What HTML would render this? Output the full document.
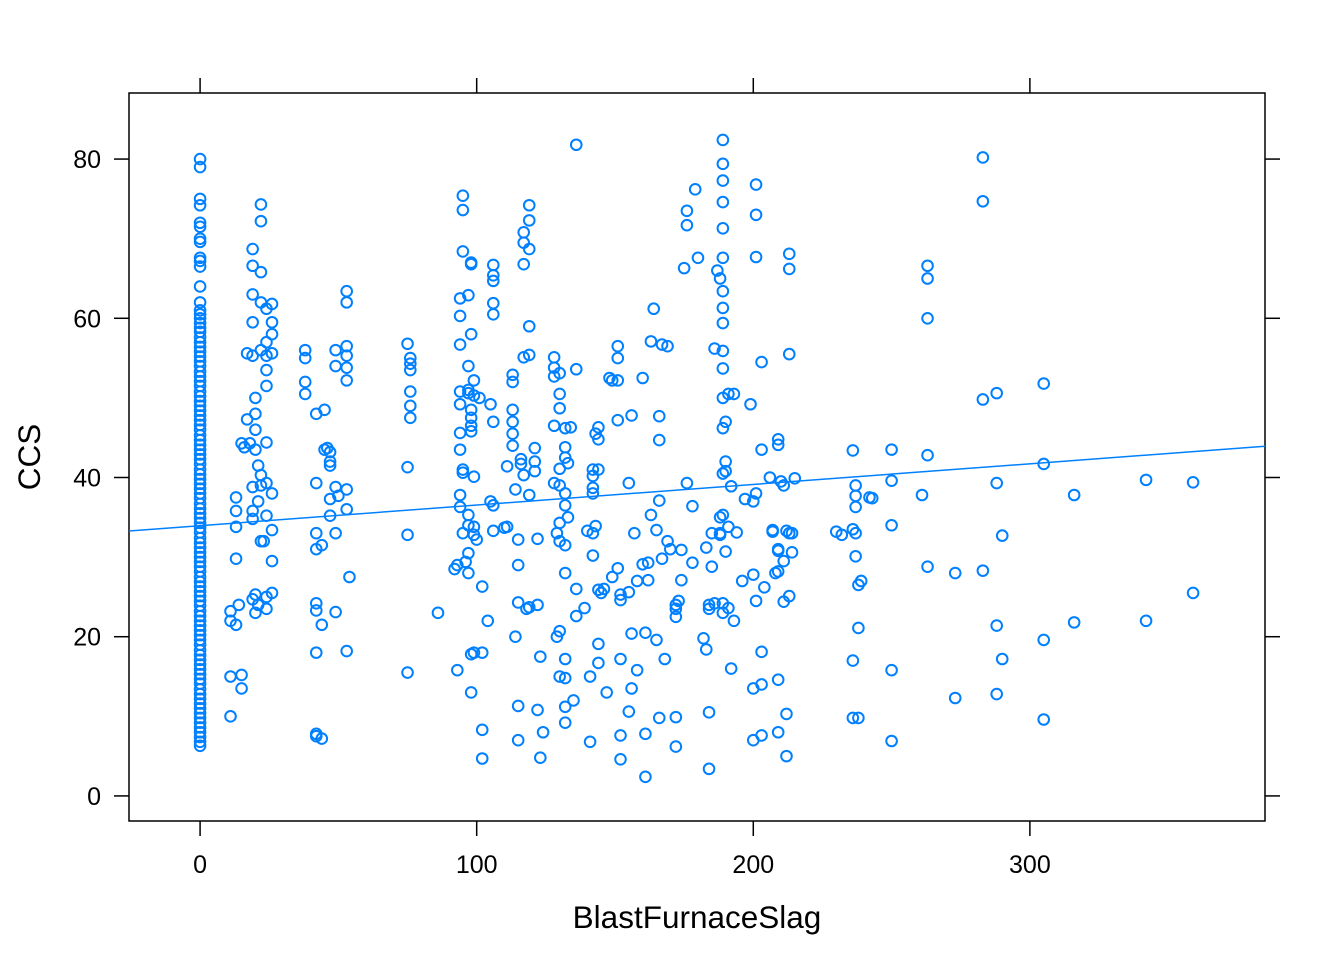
<!DOCTYPE html>
<html><head><meta charset="utf-8"><style>
html,body{margin:0;padding:0;background:#fff}
svg{display:block;font-family:"Liberation Sans",Arial,sans-serif}
</style></head><body>
<svg id="chart" width="1344" height="960">
<rect x="129" y="93" width="1136" height="728" fill="none" stroke="#000" stroke-width="1.5"/>
<g id="axes"></g>
<g id="pts"></g>
<text x="697" y="928" font-size="31.5" text-anchor="middle">BlastFurnaceSlag</text>
<text transform="translate(40,457) rotate(-90)" font-size="31.5" text-anchor="middle">CCS</text>
</svg>
<script>
const xTicks=[0,100,200,300];
const yTicks=[0,20,40,60,80];
const lineIntercept=33.95;
const lineSlope=0.0259;
const zeroY=[80,79,75,74.2,72,71.5,70,69.6,67.6,67.2,66.5,64,62,61,60.5,60,59.4,58.8,58.3,57.6,57,56.4,55.8,55.2,54.6,54,53.3,52.7,52.1,51.5,50.8,50.2,49.6,49,48.4,47.8,47.2,46.6,46,45.3,44.7,44.1,43.5,42.9,42.3,41.7,41,40.4,39.8,39.2,38.6,38,37.4,36.7,36.1,35.5,34.9,34.3,33.7,33.1,32.4,31.8,31.2,30.6,30,29.4,28.8,28.2,27.5,26.9,26.3,25.7,25.1,24.5,23.9,23.2,22.6,22,21.4,20.8,20.2,19.6,19,18.3,17.7,17.1,16.5,15.9,15.3,14.7,14.1,13.4,12.8,12.2,11.6,11,10.4,9.8,9.2,8.6,8,7.4,6.8,6.3];
const pointX=[11,11,11,11,13,13,13,13,13,14,15,15,15,16,17,17,18,19,19,19,19,19,19,19,19,19,20,20,20,20,20,20,21,21,21,22,22,22,22,22,22,22,22,23,24,24,24,24,24,24,24,24,24,24,26,26,26,26,26,26,26,26,
38,38,38,38,42,42,42,42,42,42,42,42,42,44,44,44,45,45,46,47,47,47,47,47,49,49,49,49,49,50,53,53,53,53,53,53,53,53,54,53,
75,76,76,76,76,76,76,75,75,75,86,
92,93,93,94,94,94,94,94,94,94,94,94,95,95,95,95,95,95,96,97,97,97,97,98,98,98,98,97,97,97,97,98,98,98,99,99,99,99,99,99,98,98,100,101,102,102,102,102,
105,104,105,106,106,106,106,106,106,106,106,110,111,111,113,113,113,113,113,113,114,114,115,115,115,115,115,116,116,117,117,117,117,117,118,119,119,119,119,119,119,119,121,121,121,122,122,122,123,123,124,
128,128,128,128,128,129,129,130,130,130,130,130,130,130,130,130,132,132,132,132,132,132,132,132,132,132,132,133,133,134,135,136,136,136,136,139,140,141,141,142,142,142,142,142,142,143,143,144,144,144,144,144,144,145,146,147,148,149,149,151,151,151,151,151,152,152,152,152,152,
155,155,155,156,156,156,157,158,158,160,160,161,161,161,162,162,163,163,164,165,165,166,166,166,166,167,167,168,169,169,170,172,172,172,172,172,173,174,174,175,176,176,176,178,178,179,180,182,183,183,184,184,184,184,185,185,186,186,
187,188,188,188,188,189,189,189,189,189,189,189,189,189,189,189,189,189,189,189,189,189,190,190,190,190,191,191,191,192,192,193,193,194,196,197,
199,200,200,200,200,201,201,201,201,201,203,203,203,203,203,204,206,207,207,208,209,209,209,209,209,209,209,210,211,211,211,212,212,212,213,213,213,213,213,214,214,215,
230,232,236,236,236,236,237,237,237,237,237,238,238,238,239,242,243,250,250,250,250,250,
261,263,263,263,263,263,273,273,283,283,283,283,288,288,288,288,290,290,305,305,305,305,316,316,342,342,359,359];
const pointY=[23.2,22,15,10,21.5,37.5,35.8,33.8,29.8,24,44.3,15.2,13.5,43.8,55.6,47.3,44.3,68.7,66.6,63,59.5,55.3,38.8,35.8,34.8,24.7,46,50,48,43.5,25.3,23,41.5,37,24,62,56,74.3,72.2,65.8,40.3,39,32,32,61.2,57,55.3,53.5,51.5,44.4,39.3,35.2,25,23.5,61.8,59.5,58,55.6,38,33.4,29.5,25.5,
56,55,52,50.5,48,39.3,33,31,24.2,23.3,18,7.8,7.5,31.5,21.5,7.2,48.5,43.5,43.7,43.2,42,41.5,37.3,35.2,56,54,38.8,33,23.1,37.7,63.4,62,56.5,55.3,53.8,52.2,38.5,36,27.5,18.2,
56.8,55,54.3,53.5,50.8,49,47.5,41.3,32.8,15.5,23,
28.5,29,15.8,62.5,60.3,56.7,50.8,49.2,45.6,43.5,37.8,36.3,75.4,73.6,68.4,41,40.6,33,29.4,62.9,54,51,50.6,48.5,47.5,46.5,45.8,35.3,34,30.5,28,67,66.8,58,52.2,50.3,40.1,33.8,32.8,18,17.8,13,32.2,50,18,26.3,8.3,4.7,
49.2,22,37,66.7,65.4,64.7,61.9,60.5,36.5,33.3,47,33.7,33.8,41.4,52.9,52,48.5,47,45.5,44,20,38.5,32.2,29,24.3,11.3,7,42.3,41.7,70.8,69.5,66.8,55.1,40.3,23.5,74.2,72.3,68.7,59,55.4,37.8,23.7,43.7,42,40.8,32.3,24,10.8,17.5,4.8,8,
55.1,53.8,52.7,46.5,39.3,33,20,53.1,50.5,48.7,41.1,39,34.3,32,20.7,15,46.2,43.8,42.5,38,36.5,31.5,28,17.2,14.8,11.2,9.2,41.8,35,46.3,12,53.6,26,22.6,81.8,23.6,33.3,6.8,15,33,41,40.2,38.7,38,30.2,45.5,33.9,46.3,44.8,41,25.9,19.1,16.7,25.5,26,13,52.5,27.5,52.2,56.5,55,52.2,47.2,28.6,25.3,24.6,17.2,7.6,4.6,
39.3,25.6,10.6,47.8,20.4,13.5,33,15.8,27,52.5,29.1,20.5,7.8,2.4,27.1,29.3,57.1,35.3,61.2,19.6,33.4,47.7,44.7,37.1,9.8,56.7,29.8,17.2,56.5,32,31,24,23.5,22.5,9.9,6.2,24.5,27.1,30.9,66.3,71.7,73.5,39.3,36.4,29.3,76.2,67.6,19.8,31.2,18.4,24,23.5,10.5,3.4,33,28.8,56.2,24.2,
66,65,35,33,32.8,82.4,79.4,77.3,74.6,71.3,67.6,63.4,61.3,59.4,55.9,53.7,50,46.2,40.5,35.3,24.2,23,47,42,40.8,30.7,50.5,33.8,23.6,38.9,16,50.5,22,33.1,27,37.3,
49.2,37,27.8,13.5,7,76.8,73,67.7,38,24.5,54.5,43.5,18.1,14,7.6,26.2,40,33.4,33.2,28,44.8,44.1,31,30.8,28.2,14.6,8,39.5,39,29.5,24.4,33.3,10.3,5,68.1,66.2,55.5,25.1,33,30.6,33,39.9,
33.2,32.8,33.5,43.4,17,9.8,33,39,37.7,36.3,30.1,9.8,26.5,21.1,27,37.5,37.4,43.5,39.6,34,15.8,6.9,
37.8,66.6,65,60,42.8,28.8,28,12.3,80.2,74.7,49.8,28.3,50.6,39.3,21.4,12.8,32.7,17.2,51.8,41.7,19.6,9.6,37.8,21.8,39.7,22,39.4,25.5];

const X0=129,X1=1265,Y0=93,Y1=821;
const xMin=-25.7,xMax=385;
const yMin=-3.15,yMax=88.3;
function sx(v){return X0+(v-xMin)/(xMax-xMin)*(X1-X0);}
function sy(v){return Y1-(v-yMin)/(yMax-yMin)*(Y1-Y0);}
const NS='http://www.w3.org/2000/svg';
function mk(tag,attrs,parent){const e=document.createElementNS(NS,tag);for(const k in attrs)e.setAttribute(k,attrs[k]);parent.appendChild(e);return e;}
const axes=document.getElementById('axes');
xTicks.forEach(t=>{
  const x=sx(t);
  let a=mk('line',{x1:x,x2:x,y1:Y1,y2:Y1+15,stroke:'#000','stroke-width':1.5},axes);
  
  
  let b=mk('line',{x1:x,x2:x,y1:Y0,y2:Y0-15,stroke:'#000','stroke-width':1.5},axes);
  
  
  let l=mk('text',{x:x,y:873,'font-size':25,'text-anchor':'middle'},axes);
  l.textContent=t;
  
  
});
yTicks.forEach(t=>{
  const y=sy(t);
  let a=mk('line',{x1:X0-15,x2:X0,y1:y,y2:y,stroke:'#000','stroke-width':1.5},axes);
  
  
  let b=mk('line',{x1:X1,x2:X1+15,y1:y,y2:y,stroke:'#000','stroke-width':1.5},axes);
  
  
  let l=mk('text',{x:101,y:y+9,'font-size':25,'text-anchor':'end'},axes);
  l.textContent=t;
  
  
});
const pts=document.getElementById('pts');
function dot(xv,yv){
  const c=mk('circle',{cx:sx(xv),cy:sy(yv),r:5.3,fill:'none',stroke:'#0080ff','stroke-width':2},pts);
  
  
}
zeroY.forEach(v=>dot(0,v));
pointX.forEach((v,i)=>dot(v,pointY[i]));
const rl=mk('line',{x1:sx(xMin),y1:sy(lineIntercept+lineSlope*xMin),x2:sx(xMax),y2:sy(lineIntercept+lineSlope*xMax),stroke:'#0080ff','stroke-width':1.5},document.getElementById('chart'));


</script>
</body></html>
